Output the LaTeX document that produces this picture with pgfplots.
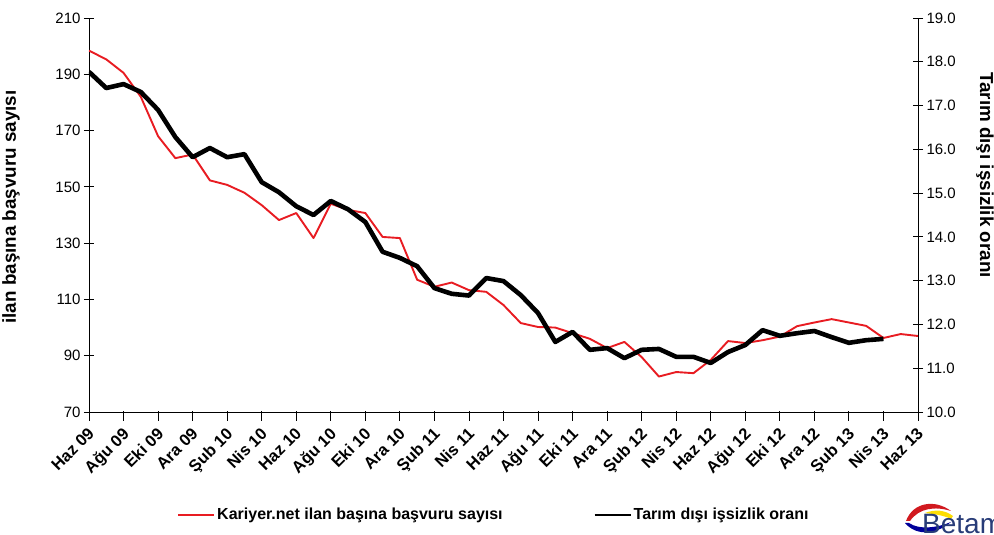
\documentclass[border=0pt]{standalone}
\usepackage{fontspec}
\setmainfont{Liberation Sans}
\usepackage{pgfplots}
\pgfplotsset{compat=1.18}
\definecolor{kred}{RGB}{232,28,34}
\definecolor{betblue}{RGB}{40,60,120}
\begin{document}
\begin{tikzpicture}[x=1pt,y=1pt]
\begin{axis}[
  at={(0pt,0pt)}, anchor=south west,
  width=829pt, height=394pt, scale only axis,
  xmin=0, xmax=48, ymin=70, ymax=210,
  axis x line*=bottom, axis y line*=left,
  axis line style={line width=0.9pt},
  xtick={0,2,...,48},
  xticklabels={Haz 09,Ağu 09,Eki 09,Ara 09,Şub 10,Nis 10,Haz 10,Ağu 10,Eki 10,Ara 10,Şub 11,Nis 11,Haz 11,Ağu 11,Eki 11,Ara 11,Şub 12,Nis 12,Haz 12,Ağu 12,Eki 12,Ara 12,Şub 13,Nis 13,Haz 13},
  xticklabel style={xshift=-2pt, yshift=-8pt, rotate=45, anchor=north east, font=\fontsize{16.5}{18}\selectfont\bfseries, inner sep=1pt},
  ytick={70,90,...,210},
  yticklabel style={font=\fontsize{15}{17}\selectfont},
  /pgf/number format/assume math mode=true,
  tick align=center,
  major tick length=10pt,
  tick style={black, line width=0.9pt},
  x tick style={yshift=-4pt},
  legend columns=2,
  legend style={at={(axis description cs:0.4885,-0.261)}, anchor=center, draw=none, fill=none,
    font=\fontsize{16}{18}\selectfont\bfseries,
    /tikz/every even column/.append style={column sep=89pt}},
  legend image code/.code={\draw[#1] (0pt,0pt) -- (36pt,0pt);},
]
\addplot[color=kred, line width=1.9pt, line join=round] coordinates {
(0,198.4) (1,195.3) (2,190.5) (3,182) (4,168) (5,160.2) (6,161.5) (7,152.3) (8,150.7) (9,147.9)
(10,143.5) (11,138.2) (12,140.7) (13,131.8) (14,144) (15,141.8) (16,140.7) (17,132.2) (18,131.8) (19,117)
(20,114.5) (21,116) (22,113.3) (23,112.7) (24,108) (25,101.6) (26,100.2) (27,100) (28,98) (29,96)
(30,92.7) (31,94.9) (32,89.5) (33,82.6) (34,84.2) (35,83.8) (36,88.5) (37,95.2) (38,94.5) (39,95.5)
(40,96.8) (41,100.5) (42,101.8) (43,103) (44,101.8) (45,100.6) (46,96.3) (47,97.7) (48,97)
};
\addlegendentry{Kariyer.net ilan başına başvuru sayısı}
\addlegendimage{black, line width=2pt}
\addlegendentry{Tarım dışı işsizlik oranı}
\end{axis}
\begin{axis}[
  at={(0pt,0pt)}, anchor=south west,
  width=829pt, height=394pt, scale only axis,
  xmin=0, xmax=48, ymin=10, ymax=19,
  axis y line*=right, axis x line=none,
  axis line style={line width=0.9pt},
  ytick={10,11,...,19},
  yticklabel style={font=\fontsize{15}{17}\selectfont, /pgf/number format/.cd, fixed, fixed zerofill, precision=1},
  /pgf/number format/assume math mode=true,
  tick align=center,
  major tick length=10pt,
  tick style={black, line width=0.9pt},
]
\addplot[color=black, line width=4.6pt, line join=round] coordinates {
(0,17.77) (1,17.40) (2,17.49) (3,17.31) (4,16.9) (5,16.28) (6,15.82) (7,16.03) (8,15.82) (9,15.89)
(10,15.25) (11,15.02) (12,14.7) (13,14.5) (14,14.82) (15,14.63) (16,14.34) (17,13.66) (18,13.52) (19,13.33)
(20,12.83) (21,12.70) (22,12.66) (23,13.06) (24,12.99) (25,12.67) (26,12.26) (27,11.6) (28,11.83) (29,11.42)
(30,11.46) (31,11.23) (32,11.42) (33,11.44) (34,11.26) (35,11.26) (36,11.12) (37,11.37) (38,11.53) (39,11.87)
(40,11.74) (41,11.80) (42,11.85) (43,11.71) (44,11.58) (45,11.64) (46,11.67)
};
\end{axis}
\node[rotate=90, font=\fontsize{18.8}{20}\selectfont\bfseries] at (-78pt,205pt) {ilan başına başvuru sayısı};
\node[rotate=-90, font=\fontsize{18.8}{20}\selectfont\bfseries] at (896pt,237pt) {Tarım dışı işsizlik oranı};
% Betam logo (approximate)
\fill[kred!90!black] (817pt,-109pt) .. controls (824pt,-90pt) and (846pt,-87pt) .. (862pt,-99pt) .. controls (846pt,-94pt) and (830pt,-96pt) .. (821pt,-109pt) -- cycle;
\fill[yellow!80!orange] (836pt,-101pt) .. controls (846pt,-97pt) and (856pt,-98pt) .. (864pt,-104pt) -- (862pt,-107pt) .. controls (854pt,-103pt) and (844pt,-102pt) .. cycle;
\fill[blue!60!black] (816pt,-111pt) .. controls (828pt,-125pt) and (848pt,-122pt) .. (862pt,-110pt) .. controls (848pt,-116pt) and (830pt,-118pt) .. (820pt,-111pt) -- cycle;
\node[anchor=base west, font=\fontsize{28}{30}\selectfont, text=betblue, inner sep=0pt] at (833pt,-122pt) {Betam};
\pgfresetboundingbox
\path[use as bounding box] (-89pt,-123pt) rectangle (905pt,412pt);
\end{tikzpicture}
\end{document}
